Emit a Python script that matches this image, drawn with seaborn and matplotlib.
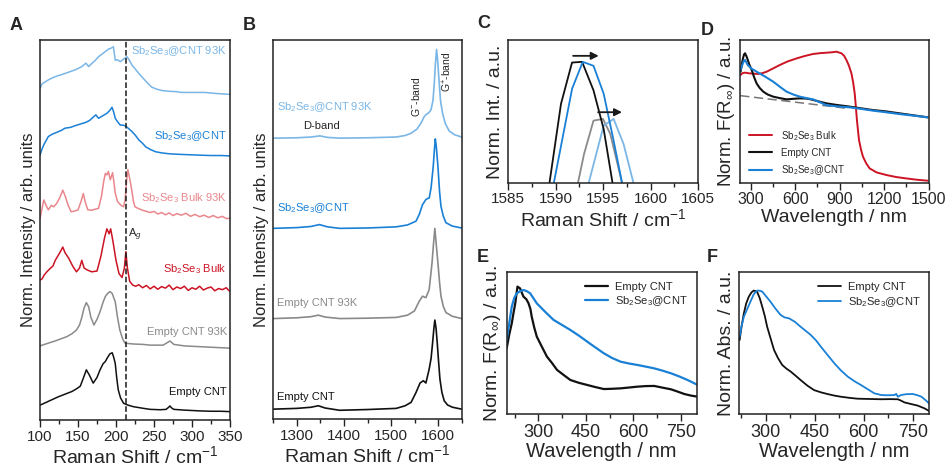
"""Raman and diffuse reflectance panels for Sb2Se3@CNT."""
import matplotlib
matplotlib.use('Agg')
import matplotlib.pyplot as plt
import pandas as pd
import seaborn as sns
from matplotlib.ticker import MultipleLocator

# ---- colours
C_LBLUE = '#7ab6e6'
C_BLUE = '#1a80d6'
C_PINK = '#e9878d'
C_RED = '#cc1424'
C_GRAY = '#8a8a8a'
C_BLACK = '#111111'

# ---- panel A: low-frequency Raman (shift, norm. intensity incl. offset)
a_cnt = [(100, .039), (112, .05), (124, .061), (133, .068), (142, .075), (148, .082),
         (153, .089), (157, .11), (161, .132), (165, .118), (170, .097), (175, .112),
         (179, .132), (183, .148), (186, .154), (189, .165), (192, .174), (195, .177),
         (197, .165), (199, .149), (201, .11), (203, .079), (206, .058), (210, .044),
         (216, .039), (223, .035), (235, .031), (245, .028), (258, .027), (266, .028),
         (269, .033), (271, .037), (273, .032), (276, .028), (290, .026), (300, .025),
         (310, .024), (325, .023), (338, .023), (350, .022)]
a_cnt93 = [(100, .195), (112, .203), (120, .208), (128, .214), (135, .219), (142, .227),
           (148, .237), (152, .25), (155, .27), (158, .295), (161, .309), (164, .298),
           (167, .27), (171, .25), (175, .265), (179, .285), (183, .31), (186, .325),
           (189, .333), (192, .338), (195, .333), (199, .311), (202, .27), (205, .237),
           (209, .212), (212, .202), (223, .2), (235, .199), (245, .197), (262, .197),
           (267, .203), (271, .208), (276, .199), (290, .195), (310, .193), (330, .191),
           (350, .189)]
a_bulk = [(100, .368), (103, .372), (105, .38), (109, .39), (114, .40), (117, .405),
          (120, .42), (123, .43), (126, .44), (130, .455), (133, .44), (138, .425),
          (143, .405), (148, .39), (152, .40), (155, .42), (158, .40), (162, .395),
          (168, .39), (175, .392), (180, .43), (185, .48), (188, .503), (191, .49),
          (193, .503), (196, .47), (200, .42), (204, .385), (208, .375), (211, .40),
          (213, .443), (215, .40), (218, .365), (222, .355), (226, .352), (230, .356),
          (235, .348), (240, .354), (245, .345), (250, .352), (255, .344), (260, .351),
          (265, .347), (270, .355), (275, .343), (280, .350), (285, .346), (290, .352),
          (295, .341), (300, .348), (305, .344), (310, .352), (315, .342), (320, .347),
          (325, .350), (330, .340), (335, .346), (340, .343), (345, .348), (350, .338)]
a_bulk93 = [(100, .531), (102, .55), (105, .579), (108, .565), (111, .553), (115, .565),
            (118, .561), (122, .57), (126, .585), (130, .605), (133, .59), (137, .565),
            (141, .548), (146, .55), (150, .553), (154, .575), (157, .596), (160, .57),
            (163, .553), (168, .552), (173, .555), (177, .557), (181, .59), (184, .63),
            (186, .649), (188, .645), (190, .654), (192.5, .632), (195.5, .651), (197, .63),
            (199, .597), (202, .575), (206, .566), (210, .561), (212, .58), (214, .63),
            (215.6, .659), (218, .635), (220, .614), (223, .575), (225, .561), (230, .556),
            (235, .552), (240, .549), (245, .546), (250, .549), (255, .542), (260, .546),
            (265, .540), (270, .545), (275, .538), (280, .543), (286, .539), (292, .544),
            (298, .536), (304, .541), (310, .535), (316, .539), (322, .533), (328, .538),
            (334, .532), (340, .536), (345, .530), (350, .531)]
a_sbcnt = [(100, .697), (103, .715), (106, .728), (111, .746), (116, .752), (122, .757),
           (128, .762), (133, .768), (140, .77), (147, .775), (155, .78), (160, .783),
           (165, .788), (170.6, .798), (173.5, .803), (177, .794), (182, .8), (188, .807),
           (192, .815), (194.7, .823), (197, .81), (199, .794), (202, .785), (205.7, .776),
           (209, .776), (212.3, .774), (216, .768), (221, .759), (226, .748), (230, .737),
           (235, .728), (239, .719), (245, .712), (252, .706), (260, .703), (268, .701),
           (274, .70), (285, .699), (297, .698), (310, .697), (325, .696), (338, .696),
           (350, .695)]
a_sbcnt93 = [(100, .873), (103, .885), (107, .89), (111, .895), (116, .9), (122, .905),
             (127, .908), (133, .912), (140, .917), (147, .922), (155, .93), (158, .935),
             (160.5, .939), (164, .93), (168, .938), (172, .945), (177, .956), (183, .965),
             (190, .976), (193, .978), (196.6, .982), (199, .947), (202, .948), (205.7, .943),
             (210, .95), (214.5, .956), (218, .945), (221, .934), (226, .922), (230, .912),
             (234, .903), (240, .89), (247, .876), (253, .871), (260.5, .867), (270, .865),
             (280, .864), (286, .862), (300, .862), (317, .862), (333, .859), (350, .857)]
a_ag_pos = 213.2

# ---- panel B: D/G band region
b_cnt = [(1250, .026), (1300, .028), (1330, .031), (1345.6, .035), (1360, .029),
         (1391, .023), (1450, .025), (1511, .028), (1530, .035), (1542.6, .044),
         (1553, .07), (1561.6, .095), (1568.6, .101), (1574, .095), (1581, .132),
         (1585, .16), (1588.3, .202), (1591, .24), (1593, .261), (1595.5, .24),
         (1598, .202), (1601, .15), (1603.8, .105), (1608, .07), (1612.9, .048),
         (1620, .037), (1630.4, .031), (1650, .026)]
b_cnt93 = [(1250, .265), (1300, .267), (1330, .27), (1345.6, .274), (1360, .269),
           (1391, .265), (1450, .266), (1511, .268), (1535, .274), (1549.6, .285),
           (1560, .311), (1567, .324), (1574, .32), (1581, .342), (1587, .412),
           (1590, .46), (1593, .503), (1596, .46), (1599.5, .412), (1603, .36),
           (1606, .324), (1611, .297), (1616.5, .281), (1630, .271), (1650, .265)]
b_sbcnt = [(1250, .503), (1300, .505), (1330, .508), (1347.8, .513), (1365, .507),
           (1391, .503), (1450, .504), (1511, .507), (1535, .512), (1553, .522),
           (1560, .54), (1567, .566), (1574, .579), (1578, .582), (1581, .583),
           (1585, .61), (1589.6, .667), (1592, .71), (1594, .739), (1596, .72),
           (1599.5, .667), (1603, .6), (1606, .561), (1611, .535), (1616.5, .518),
           (1630, .509), (1650, .504)]
b_sbcnt93 = [(1250, .741), (1300, .742), (1330, .744), (1349, .747), (1365, .743),
             (1391, .741), (1450, .742), (1511, .744), (1530, .748), (1542.6, .754),
             (1555, .765), (1563.7, .781), (1570, .797), (1574, .803), (1580, .808),
             (1584.8, .816), (1589, .84), (1591.8, .886), (1594, .935), (1596.7, .975),
             (1599, .945), (1602.3, .886), (1605, .84), (1609.3, .807), (1615, .78),
             (1623.4, .76), (1635, .75), (1650, .744)]

# ---- panel C: G+ band zoom
c_cnt = [(1589.37, 0), (1590.58, .553), (1591.74, .842), (1592.8, .847),
         (1594.0, .647), (1595.07, .376), (1596.0, 0)]
c_sbcnt = [(1589.83, 0), (1591.75, .659), (1592.87, .847), (1594.0, .819),
           (1595.07, .624), (1596.12, .294), (1597.0, 0)]
c_cnt93 = [(1592.37, 0), (1593.0, .2), (1594.0, .435), (1595.0, .447),
           (1595.77, .341), (1597.0, 0)]
c_sbcnt93 = [(1593.5, 0), (1595.07, .4), (1596.12, .447), (1597.17, .27), (1598.2, 0)]
c_arrows = [(1591.85, 1594.55, .889), (1594.48, 1597.0, .494)]

# ---- panel D: Kubelka-Munk, wide range
d_bulk = [(232, .755), (245, .768), (262, .771), (280, .768), (295, .766), (320, .764),
          (351, .762), (380, .768), (408, .778), (450, .8), (497, .825), (550, .85),
          (610, .871), (665, .888), (721, .902), (770, .908), (811, .911), (850, .914),
          (879, .918), (912, .907), (930, .89), (946, .86), (963, .82), (980, .766),
          (992, .7), (1002, .626), (1010, .53), (1017, .439), (1031, .299), (1045, .23),
          (1058, .182), (1080, .135), (1103, .1), (1150, .072), (1215, .054),
          (1280, .04), (1350, .03), (1420, .021), (1495, .014)]
d_cnt = [(232, .778), (242, .84), (251, .883), (256, .9), (262, .907), (270, .89),
         (277, .871), (290, .83), (307, .79), (323, .74), (340, .696), (360, .665),
         (385, .638), (415, .618), (452, .603), (500, .592), (542, .584), (590, .588),
         (632, .591), (670, .59), (699, .586), (750, .572), (811, .556), (880, .545),
         (968, .533), (1040, .522), (1125, .509), (1210, .5), (1305, .486),
         (1400, .472), (1495, .458)]
d_sbcnt = [(232, .79), (245, .83), (255, .855), (262, .86), (270, .845), (280, .825),
           (305, .8), (340, .778), (395, .745), (452, .708), (500, .67), (542, .638),
           (590, .617), (632, .603), (680, .592), (721, .584), (770, .562), (811, .544),
           (880, .535), (968, .528), (1040, .518), (1125, .505), (1210, .494),
           (1305, .481), (1400, .47), (1495, .458)]
d_base = [(230, .61), (960, .52)]

# ---- panel E: Kubelka-Munk, UV-vis range
e_cnt = [(200, .464), (208, .56), (216, .64), (222, .72), (227, .78), (234, .899),
         (242, .887), (253, .828), (262, .81), (269, .781), (275, .74), (279, .687),
         (287, .61), (295, .546), (311, .475), (327, .405), (343, .36), (359, .311),
         (380, .275), (401, .24), (428, .22), (454, .205), (480, .19), (507, .176),
         (533, .178), (560, .181), (587, .187), (613, .193), (640, .197), (666, .198),
         (692, .186), (719, .174), (740, .158), (761, .141), (782, .13), (803, .122)]
e_sbcnt = [(200, .522), (208, .64), (216, .758), (224, .82), (232, .852), (242, .866),
           (253, .875), (264, .866), (274, .852), (285, .815), (295, .781), (322, .72),
           (348, .664), (375, .628), (401, .593), (428, .553), (454, .511), (480, .47),
           (507, .428), (533, .395), (560, .369), (587, .356), (613, .346), (640, .334),
           (666, .322), (692, .306), (719, .287), (745, .265), (771, .24), (803, .205)]

# ---- panel F: absorbance
f_cnt = [(221, .522), (227, .62), (234, .711), (241, .78), (249, .828), (257, .858),
         (264, .871), (274, .864), (282, .82), (290, .758), (298, .69), (305, .616),
         (316, .53), (326, .452), (338, .395), (351, .346), (364, .32), (377, .299),
         (392, .27), (407, .24), (428, .2), (448, .169), (469, .153), (489, .141),
         (510, .13), (530, .122), (556, .114), (581, .108), (617, .106), (653, .104),
         (680, .105), (704, .104), (714, .094), (724, .082), (745, .07), (765, .059),
         (785, .04), (804, .016)]
f_sbcnt = [(221, .546), (227, .62), (234, .687), (244, .74), (254, .793), (264, .845),
           (274, .871), (282, .87), (290, .864), (302, .83), (315, .793), (330, .745),
           (346, .699), (358, .682), (372, .675), (390, .65), (407, .616), (422, .588),
           (438, .558), (454, .52), (469, .475), (490, .415), (510, .358), (530, .308),
           (551, .264), (571, .232), (591, .205), (612, .175), (632, .146), (653, .134),
           (673, .132), (694, .134), (699, .142), (704, .122), (714, .134), (730, .14),
           (750, .141), (763, .133), (776, .122), (790, .095), (804, .064)]

sns.set_theme(style='ticks')
plt.rcParams['font.family'] = ['Liberation Sans', 'DejaVu Sans']
plt.rcParams['mathtext.fontset'] = 'custom'
plt.rcParams['mathtext.rm'] = 'Liberation Sans'
plt.rcParams['mathtext.it'] = 'Liberation Sans:italic'
plt.rcParams['mathtext.bf'] = 'Liberation Sans:bold'

fig = plt.figure(figsize=(9.48, 4.69), dpi=100)


def px_axes(left, top, right, bottom):
    """Axes placed by pixel box."""
    return fig.add_axes([left / 948, 1 - bottom / 469,
                         (right - left) / 948, (bottom - top) / 469])


def draw(ax, pts, color, lw=1.2, label=None):
    df = pd.DataFrame(pts, columns=['x', 'y'])
    sns.lineplot(data=df, x='x', y='y', ax=ax, color=color, lw=lw,
                 sort=False, estimator=None, label=label, legend=False)


def style(ax, xlim, major, minor, xlabel, ylabel, tick_fs=11,
          xlabel_fs=14, ylabel_fs=14, ylim=(0, 1)):
    ax.set_xlim(xlim)
    ax.set_ylim(ylim)
    ax.xaxis.set_major_locator(MultipleLocator(major))
    ax.xaxis.set_minor_locator(MultipleLocator(minor))
    ax.set_yticks([])
    ax.tick_params(axis='x', which='major', direction='out', length=5,
                   width=1, labelsize=tick_fs, pad=2, color='#222222')
    ax.tick_params(axis='x', which='minor', direction='out', length=3,
                   width=1, color='#222222')
    for s in ax.spines.values():
        s.set_linewidth(1.1)
        s.set_color('#222222')
    ax.set_xlabel(xlabel, fontsize=xlabel_fs, labelpad=1)
    ax.set_ylabel(ylabel, fontsize=ylabel_fs, labelpad=3)


RAMAN = r'Raman Shift / cm$^{-1}$'
WAVE = 'Wavelength / nm'
KM = r'Norm. F(R$_{\infty}$) / a.u.'
SB = r'Sb$_2$Se$_3$'

# ---------------- A
axA = px_axes(40, 40, 230, 420)
for pts, col in [(a_cnt, C_BLACK), (a_cnt93, C_GRAY), (a_bulk, C_RED),
                 (a_bulk93, C_PINK), (a_sbcnt, C_BLUE), (a_sbcnt93, C_LBLUE)]:
    draw(axA, pts, col, lw=1.1)
axA.axvline(a_ag_pos, color='k', ls='--', lw=1.1)
axA.text(a_ag_pos + 2, 0.487, r'A$_g$', fontsize=8, ha='left', va='center')
for txt, y, col in [(SB + '@CNT 93K', .972, C_LBLUE), (SB + '@CNT', .747, C_BLUE),
                    (SB + ' Bulk 93K', .583, C_PINK), (SB + ' Bulk', .396, C_RED),
                    ('Empty CNT 93K', .232, C_GRAY), ('Empty CNT', .073, C_BLACK)]:
    axA.text(346, y, txt, color=col, fontsize=8, ha='right', va='center')
style(axA, (100, 350), 50, 25, RAMAN, 'Norm. Intensity / arb. units', ylabel_fs=12)

# ---------------- B
axB = px_axes(273.3, 40, 461.7, 419)
for pts, col in [(b_cnt, C_BLACK), (b_cnt93, C_GRAY), (b_sbcnt, C_BLUE),
                 (b_sbcnt93, C_LBLUE)]:
    draw(axB, pts, col, lw=1.2)
for txt, y, col in [(SB + '@CNT 93K', .823, C_LBLUE), (SB + '@CNT', .557, C_BLUE),
                    ('Empty CNT 93K', .307, C_GRAY), ('Empty CNT', .057, C_BLACK)]:
    axB.text(1258, y, txt, color=col, fontsize=8, ha='left', va='center')
axB.text(1352, .772, 'D-band', fontsize=8, ha='center', va='center')
axB.text(1553, .849, r'G$^{-}$-band', fontsize=7.5, rotation=90, ha='center', va='center')
axB.text(1620, .917, r'G$^{+}$-band', fontsize=7.5, rotation=90, ha='center', va='center')
style(axB, (1250, 1650), 100, 50, RAMAN, 'Norm. Intensity / arb. units', ylabel_fs=12)

# ---------------- C
axC = px_axes(508, 40, 698, 182.7)
for pts, col in [(c_cnt93, C_GRAY), (c_sbcnt93, C_LBLUE), (c_cnt, C_BLACK),
                 (c_sbcnt, C_BLUE)]:
    draw(axC, pts, col, lw=1.3)
for x0, x1, y in c_arrows:
    axC.annotate('', xy=(x1, y), xytext=(x0, y),
                 arrowprops=dict(arrowstyle='-|>', color='k', lw=1.3,
                                 mutation_scale=11, shrinkA=0, shrinkB=0))
style(axC, (1585, 1605), 5, 2.5, RAMAN, 'Norm. Int. / a.u.')

# ---------------- D
axD = px_axes(740, 40, 928.5, 182.7)
draw(axD, d_base, '#777777', lw=1.1)
axD.lines[-1].set_dashes([6, 3])
draw(axD, d_bulk, C_RED, lw=1.4, label=SB + ' Bulk')
draw(axD, d_cnt, C_BLACK, lw=1.5, label='Empty CNT')
draw(axD, d_sbcnt, C_BLUE, lw=1.5, label=SB + '@CNT')
h, l = axD.get_legend_handles_labels()
axD.legend(h[-3:], l[-3:], loc='lower left', bbox_to_anchor=(0.05, 0.04),
           frameon=False, fontsize=7, handlelength=2.3, handletextpad=0.9,
           labelspacing=0.55, borderpad=0, borderaxespad=0)
style(axD, (228, 1500), 300, 150, WAVE, KM, tick_fs=11.5, ylabel_fs=13.5)
axD.yaxis.labelpad = 2

# ---------------- E
axE = px_axes(506.7, 272.3, 696.7, 414)
draw(axE, e_cnt, C_BLACK, lw=1.6, label='Empty CNT')
draw(axE, e_sbcnt, C_BLUE, lw=1.6, label=SB + '@CNT')
axE.legend(loc='upper left', bbox_to_anchor=(0.41, 0.93), frameon=False,
           fontsize=8, handlelength=2.1, handletextpad=0.6, labelspacing=0.2,
           borderpad=0, borderaxespad=0)
style(axE, (200, 800), 150, 75, WAVE, KM, tick_fs=13, xlabel_fs=14.5)

# ---------------- F
axF = px_axes(739.3, 272.3, 929.3, 414)
draw(axF, f_cnt, C_BLACK, lw=1.3, label='Empty CNT')
draw(axF, f_sbcnt, C_BLUE, lw=1.3, label=SB + '@CNT')
axF.legend(loc='upper left', bbox_to_anchor=(0.415, 0.93), frameon=False,
           fontsize=8, handlelength=2.1, handletextpad=0.6, labelspacing=0.25,
           borderpad=0, borderaxespad=0)
style(axF, (220, 800), 150, 75, WAVE, 'Norm. Abs. / a.u.', tick_fs=13, xlabel_fs=14.5)

# ---- panel letters
for letter, x, y in [('A', 10, 17), ('B', 243, 17), ('C', 477, 15),
                     ('D', 701, 22), ('E', 477, 249), ('F', 707, 249)]:
    fig.text(x / 948, 1 - y / 469, letter, fontsize=13, fontweight='bold',
             ha='left', va='top')

fig.savefig('out.png', dpi=100)
